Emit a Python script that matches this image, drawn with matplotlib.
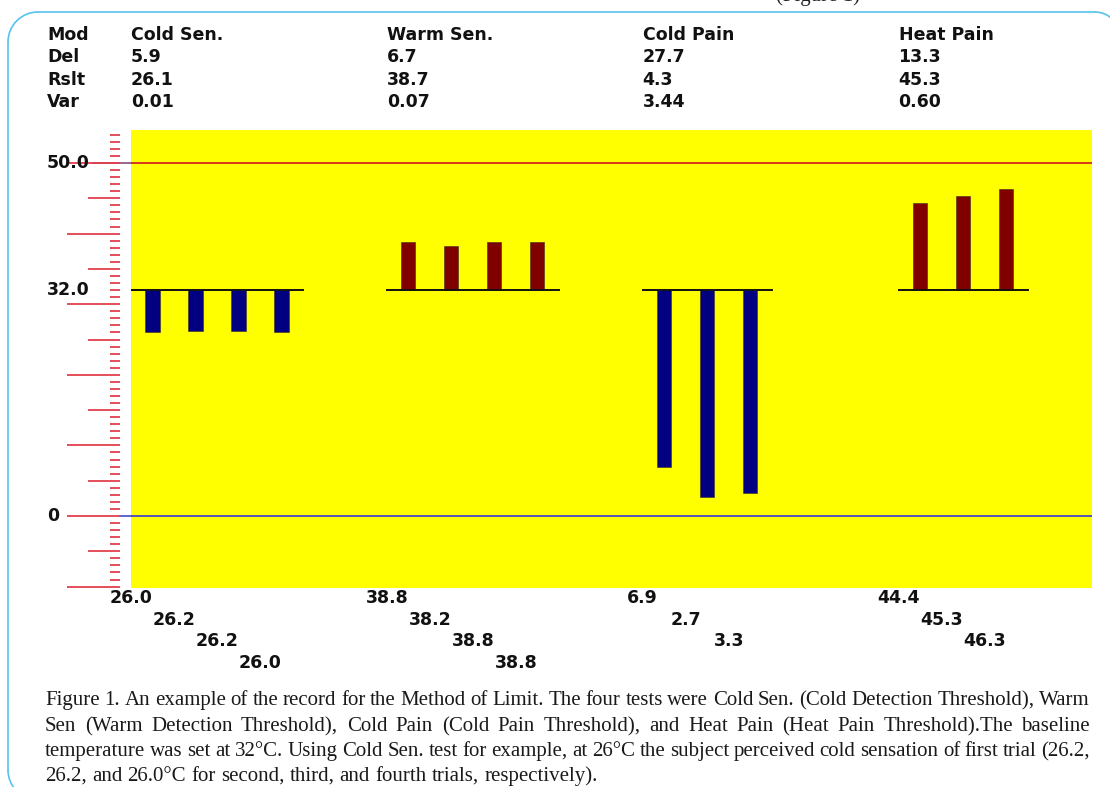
import matplotlib
matplotlib.use("Agg")
import matplotlib.pyplot as plt
import matplotlib.transforms as mtransforms
from matplotlib.patches import Arc

# --------------------------------
# Datos
# --------------------------------
modos = ["Cold Sen.", "Warm Sen.", "Cold Pain", "Heat Pain"]
fila_del = ["5.9", "6.7", "27.7", "13.3"]
fila_rslt = ["26.1", "38.7", "4.3", "45.3"]
fila_var = ["0.01", "0.07", "3.44", "0.60"]
etiquetas_filas = ["Mod", "Del", "Rslt", "Var"]

# ensayos de cada prueba (temperatura en la que se detecta)
ensayos = [
    [26.0, 26.2, 26.2, 26.0],
    [38.8, 38.2, 38.8, 38.8],
    [6.9, 2.7, 3.3],
    [44.4, 45.3, 46.3],
]
linea_base = 32.0
limite_sup = 50.0
etiquetas_y = [50.0, 32.0, 0]
textos_y = ["50.0", "32.0", "0"]

leyenda = [
    "Figure 1. An example of the record for the Method of Limit. The four tests were Cold Sen. (Cold Detection Threshold), Warm",
    "Sen (Warm Detection Threshold), Cold Pain (Cold Pain Threshold), and Heat Pain (Heat Pain Threshold).The baseline",
    "temperature was set at 32°C. Using Cold Sen. test for example, at 26°C the subject perceived cold sensation of first trial (26.2,",
    "26.2, and 26.0°C for second, third, and fourth trials, respectively).",
]

# --------------------------------
# Figura
# --------------------------------
W, H = 1110, 787
fig = plt.figure(figsize=(W / 100, H / 100), dpi=100)
fig.patch.set_facecolor("white")

def fy(py):
    # pixel vertical de la imagen -> fraccion de figura
    return 1 - py / H

# capa de fondo en pixeles para el marco redondeado (eje y invertido)
fondo = fig.add_axes([0, 0, 1, 1], zorder=-1)
fondo.set_xlim(0, W)
fondo.set_ylim(H, 0)
fondo.axis("off")
c_marco = "#56c4ec"
r1, r2 = 30, 25
fondo.plot([8, 8], [12 + r1, 800 - r1], color=c_marco, lw=1.2)
fondo.plot([8 + r1, 1095], [12, 12], color=c_marco, lw=1.2)
fondo.add_patch(Arc((8 + r1, 12 + r1), 2 * r1, 2 * r1, theta1=180, theta2=270,
                    color=c_marco, lw=1.2))
fondo.add_patch(Arc((8 + r1, 800 - r1), 2 * r1, 2 * r1, theta1=90, theta2=180,
                    color=c_marco, lw=1.2))
fondo.add_patch(Arc((1095, 12 + r2), 2 * r2, 2 * r2, theta1=270, theta2=360,
                    color=c_marco, lw=1.2))

ax = fig.add_axes([131 / W, fy(588), (1092 - 131) / W, (588 - 130) / H])
ax.set_facecolor("#ffff00")
for s in ax.spines.values():
    s.set_visible(False)
ax.set_xticks([])
ax.set_yticks([])

px_por_unidad = (516 - 163) / 50.0
ax.set_ylim(-(588 - 516) / px_por_unidad, (516 - 130) / px_por_unidad)
ax.set_xlim(0, (1092 - 131) / 43.0)

fuente = dict(family="DejaVu Sans", fontweight="bold", fontsize=12.5, color="#111111")

# lineas de referencia
ax.axhline(limite_sup, color="#d42a1e", lw=1.3)
ax.axhline(0, color="#4848c8", lw=1.3)
trans_izq = mtransforms.blended_transform_factory(fig.transFigure, ax.transData)
ax.plot([93 / W, 131 / W], [limite_sup, limite_sup], color="#8a4a7a", lw=1.2,
        transform=trans_izq, clip_on=False)
ax.plot([120 / W, 131 / W], [0, 0], color="#4848c8", lw=1.2,
        transform=trans_izq, clip_on=False)

# regla de marcas a la izquierda
for v in range(-10, 55):
    if v % 10 == 0:
        x0 = 67
    elif v % 5 == 0:
        x0 = 88
    else:
        x0 = 110
    ax.plot([x0 / W, 120 / W], [v, v], color="#e2404c", lw=1.3,
            transform=trans_izq, clip_on=False, solid_capstyle="butt")

for v, t in zip(etiquetas_y, textos_y):
    fig.text(47 / W, 0, t, transform=trans_izq, ha="left", va="center", **fuente)
    fig.texts[-1].set_position((47 / W, v))

# barras
inicio_grupo = [5.95 * g for g in range(len(ensayos))]
trans_sup = mtransforms.blended_transform_factory(ax.transData, fig.transFigure)
filas_px = [598, 620, 641, 663]
for g, vals in enumerate(ensayos):
    x0 = inicio_grupo[g]
    n = len(vals)
    for i, v in enumerate(vals):
        color = "#000080" if v < linea_base else "#800000"
        ax.bar(x0 + 0.5 + i, v - linea_base, bottom=linea_base, width=0.33,
               color=color, edgecolor="#3a2a2a", linewidth=0.4, zorder=3)
        fig.text(x0 + i, fy(filas_px[i]), f"{v:.1f}", transform=trans_sup,
                 ha="center", va="center", **fuente)
    ax.plot([x0, x0 + n], [linea_base, linea_base], color="#111111", lw=1.4, zorder=4)

# tabla superior
filas = [modos, fila_del, fila_rslt, fila_var]
filas_top = [35, 57, 80, 102]
for r, (nombre, fila) in enumerate(zip(etiquetas_filas, filas)):
    fig.text(47 / W, fy(filas_top[r]), nombre, ha="left", va="center", **fuente)
    for g, t in enumerate(fila):
        fig.text(inicio_grupo[g], fy(filas_top[r]), t, transform=trans_sup,
                 ha="left", va="center", **fuente)

# texto cortado arriba
fig.text(776 / W, fy(1), "(Figure 1)", family="Liberation Serif", fontsize=15,
         ha="left", va="baseline", color="#222222")

# leyenda justificada
renderer = fig.canvas.get_renderer()
fs_ley = 15
izq, der = 45, 1090
lineas_base_px = [705, 731, 756, 781]
for k, linea in enumerate(leyenda):
    palabras = linea.split(" ")
    objs = [fig.text(0, fy(lineas_base_px[k]), p, family="Liberation Serif",
                     fontsize=fs_ley, ha="left", va="baseline", color="#1a1a1a")
            for p in palabras]
    anchos = [o.get_window_extent(renderer).width for o in objs]
    hueco_nat = 0.25 * fs_ley * 100 / 72
    if k < len(leyenda) - 1:
        hueco = (der - izq - sum(anchos)) / (len(palabras) - 1)
    else:
        hueco = hueco_nat
    x = izq
    for o, a in zip(objs, anchos):
        o.set_x(x / W)
        x += a + hueco

fig.savefig("out.png", dpi=100)
